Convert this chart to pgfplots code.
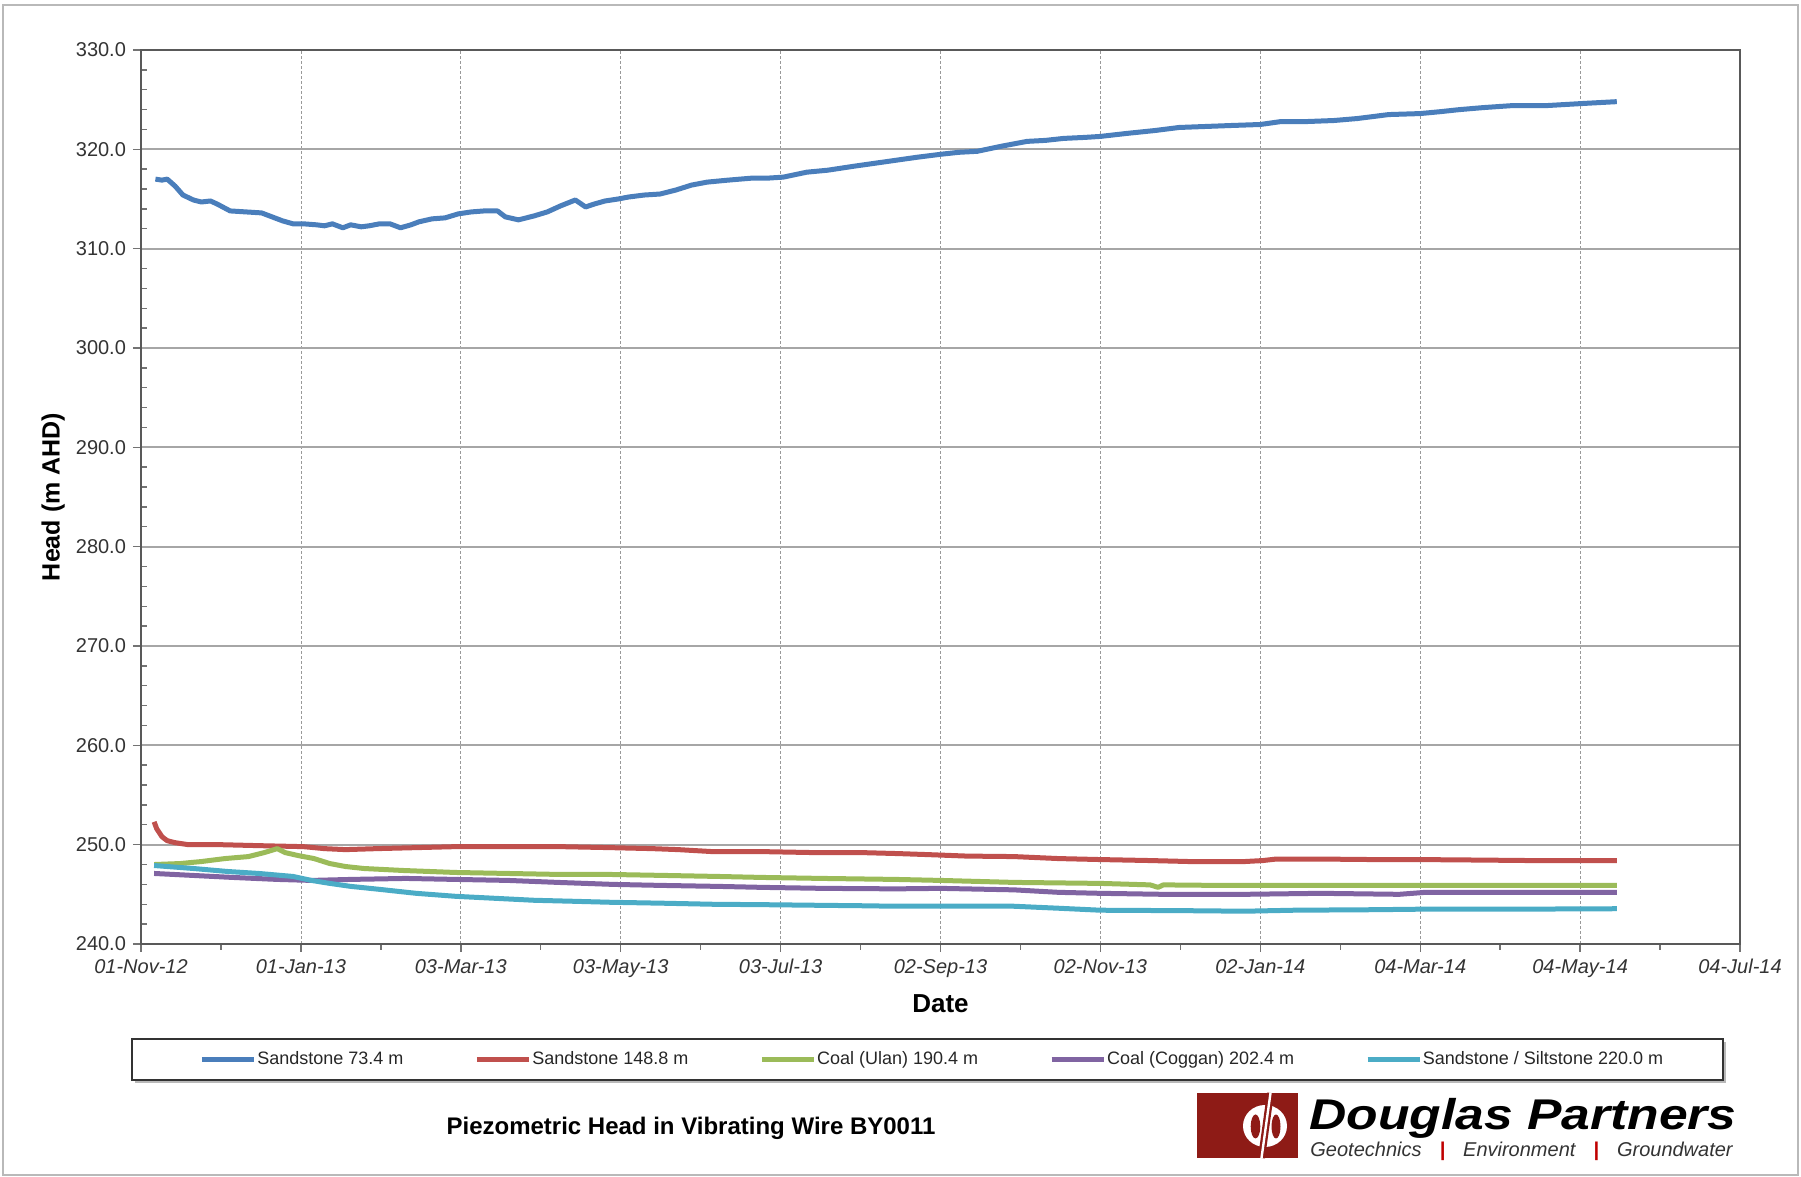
\documentclass[border=0pt]{standalone}
\usepackage{fontspec}
\setmainfont{Liberation Sans}
\usepackage{pgfplots}
\pgfplotsset{compat=1.18}

\definecolor{sBlue}{HTML}{4A7EBB}
\definecolor{sRed}{HTML}{C0504D}
\definecolor{sGreen}{HTML}{9BBB59}
\definecolor{sPurple}{HTML}{8064A2}
\definecolor{sCyan}{HTML}{4BACC6}
\definecolor{dpred}{HTML}{8E1B16}

% x = days after 01-Nov-12
\pgfplotstableread{
day head
5.5 317.0
8 316.9
10 317.0
13 316.3
16 315.4
20 314.9
23 314.7
26.5 314.8
29 314.5
34 313.8
40 313.7
46 313.6
50 313.2
54 312.8
58 312.5
62 312.5
67 312.4
70 312.3
73 312.5
77 312.1
80 312.4
84 312.2
87 312.3
91 312.5
95 312.5
99 312.1
103 312.4
106 312.7
111 313.0
116 313.1
121 313.5
126 313.7
131 313.8
136 313.8
139 313.2
144 312.9
150 313.3
155 313.7
160 314.3
165.7 314.9
169.6 314.2
173 314.5
177 314.8
182 315.0
186 315.2
192 315.4
198 315.5
204 315.9
210 316.4
216 316.7
224 316.9
233 317.1
239 317.1
245 317.2
254 317.7
262 317.9
272 318.3
280 318.6
288 318.9
296 319.2
305 319.5
312 319.7
319 319.8
328 320.3
338 320.8
345 320.9
352 321.1
360 321.2
366 321.3
376 321.6
387 321.9
396 322.2
406 322.3
416 322.4
427 322.5
435 322.8
445 322.8
455 322.9
464 323.1
476 323.5
488 323.6
496 323.8
503 324.0
512 324.2
523 324.4
536 324.4
549 324.6
556 324.7
563 324.8
}\sandA

\pgfplotstableread{
day head
5 252.3
6 251.6
8 250.8
10 250.4
13 250.2
18 250.0
30 250.0
45 249.9
62 249.8
70 249.6
78 249.5
90 249.6
105 249.7
120 249.8
140 249.8
160 249.8
179 249.7
195 249.6
205 249.5
218 249.3
237 249.3
257 249.2
275 249.2
289 249.1
300 249.0
315 248.85
333 248.8
350 248.6
366 248.5
385 248.4
400 248.3
421 248.3
428 248.4
433 248.55
450 248.55
470 248.5
487 248.5
510 248.45
530 248.4
545 248.4
563 248.4
}\sandB

\pgfplotstableread{
day head
5 248.0
15 248.1
23 248.3
32 248.6
41 248.8
47 249.2
52 249.6
55 249.2
60 248.9
66 248.6
72 248.1
78 247.8
85 247.6
100 247.4
120 247.2
140 247.1
160 247.0
179 247.0
200 246.9
220 246.8
237 246.7
260 246.6
288 246.5
305 246.4
333 246.2
366 246.1
385 245.95
388 245.7
390 245.95
410 245.9
440 245.9
487 245.9
520 245.9
563 245.9
}\coalUlan

\pgfplotstableread{
day head
5 247.1
20 246.9
35 246.7
52 246.5
65 246.4
80 246.5
101 246.6
120 246.5
140 246.4
159 246.2
180 246.0
198 245.9
220 245.8
237 245.7
260 245.6
288 245.55
305 245.6
333 245.45
350 245.2
366 245.1
390 245.0
421 245.0
450 245.1
480 245.0
490 245.2
520 245.2
563 245.2
}\coalCoggan

\pgfplotstableread{
day head
5 247.9
20 247.6
33 247.3
45 247.1
58 246.8
65 246.4
72 246.1
80 245.8
91 245.5
105 245.1
120 244.8
135 244.6
150 244.4
165 244.3
179 244.2
200 244.1
218 244.0
240 243.95
257 243.9
275 243.85
288 243.8
305 243.8
333 243.8
350 243.6
366 243.4
400 243.35
421 243.3
440 243.4
470 243.45
487 243.5
520 243.5
563 243.55
}\sandC

\begin{document}
\begin{tikzpicture}
\begin{scope}[x=0.5pt,y=0.5pt]
\path[use as bounding box] (0,0) rectangle (1801,1177);
\draw[gray!55, line width=1pt] (3,2) rectangle (1798,1172);
\end{scope}

\begin{axis}[
    at={(70.5pt,116.5pt)}, anchor=south west,
    scale only axis, width=799.5pt, height=447pt,
    xmin=0, xmax=610, ymin=240, ymax=330,
    xtick={0,61,...,610},
    xticklabels={01-Nov-12,01-Jan-13,03-Mar-13,03-May-13,03-Jul-13,02-Sep-13,02-Nov-13,02-Jan-14,04-Mar-14,04-May-14,04-Jul-14},
    ytick={240,250,...,330},
    minor x tick num=1, minor y tick num=4,
    tick pos=left, tick align=outside,
    major tick length=4pt, minor tick length=3pt,
    minor y tick style={xshift=3pt},
    tick style={black!55, line width=0.7pt},
    axis line style={black!65, line width=0.9pt},
    xmajorgrids, ymajorgrids,
    major y grid style={black!35, line width=1pt},
    major x grid style={black!40, line width=0.4pt, dash pattern=on 1.5pt off 1pt},
    /pgf/number format/assume math mode=true,
    yticklabel style={font=\fontsize{10}{12}\selectfont, text=black!80,
        /pgf/number format/fixed, /pgf/number format/fixed zerofill,
        /pgf/number format/precision=1},
    xticklabel style={font=\itshape\fontsize{10}{12}\selectfont, text=black!80},
    ylabel={Head (m AHD)},
    ylabel style={at={(axis description cs:-0.055,0.5)}, anchor=center,
        font=\bfseries\fontsize{12.5}{14}\selectfont},
    xlabel={Date},
    xlabel style={at={(axis description cs:0.5,-0.0671)}, anchor=center,
        font=\bfseries\fontsize{13}{15}\selectfont},
    every axis plot/.append style={no marks, line width=2.5pt, line join=round},
    legend columns=5,
    legend style={at={(0.4947,-0.1292)}, anchor=center, draw=none, fill=none,
        font=\fontsize{9}{10}\selectfont, text=black!85,
        nodes={inner sep=0.6pt},
        /tikz/every even column/.append style={column sep=35pt}},
    legend image code/.code={\draw[#1, line width=2.2pt] (0pt,0pt) -- (26pt,0pt);},
]
\addplot[sBlue] table[x=day, y=head] {\sandA};
\addplot[sRed] table[x=day, y=head] {\sandB};
\addplot[sGreen] table[x=day, y=head] {\coalUlan};
\addplot[sPurple] table[x=day, y=head] {\coalCoggan};
\addplot[sCyan] table[x=day, y=head] {\sandC};
\legend{Sandstone 73.4 m, Sandstone 148.8 m, Coal (Ulan) 190.4 m, Coal (Coggan) 202.4 m, Sandstone / Siltstone 220.0 m}
\end{axis}

\begin{scope}[x=0.5pt,y=0.5pt]
% legend frame
\draw[gray!55, line width=1.2pt] (135,95) -- (1725,95) -- (1725,135);
\draw[black!80, line width=0.9pt] (132,97) rectangle (1723,138);
% title
\node[font=\bfseries\fontsize{12}{14}\selectfont] at (691,49) {Piezometric Head in Vibrating Wire BY0011};
% logo
\fill[dpred] (1197,19) rectangle (1298,84);
\fill[white] (1265,51) ellipse (22 and 21);
\fill[dpred] (1255.5,50.5) ellipse (4.8 and 12);
\fill[dpred] (1276,50.5) ellipse (4.5 and 12);
\draw[dpred, line width=3.5pt] (1261.5,19) -- (1270.5,84);
\draw[white, line width=1.2pt] (1261.5,19) -- (1270.5,84);
\node[anchor=base west, inner sep=0, xscale=1.2, font=\bfseries\itshape\fontsize{21.5}{24}\selectfont] at (1309,47.5) {Douglas Partners};
\node[anchor=base west, inner sep=0, text=black!80, font=\itshape\fontsize{10}{12}\selectfont] at (1310,20)
  {Geotechnics\hspace{9pt}{\color{red!75!black}\bfseries|}\hspace{9pt}Environment\hspace{9pt}{\color{red!75!black}\bfseries|}\hspace{9pt}Groundwater};
\end{scope}
\end{tikzpicture}
\end{document}
